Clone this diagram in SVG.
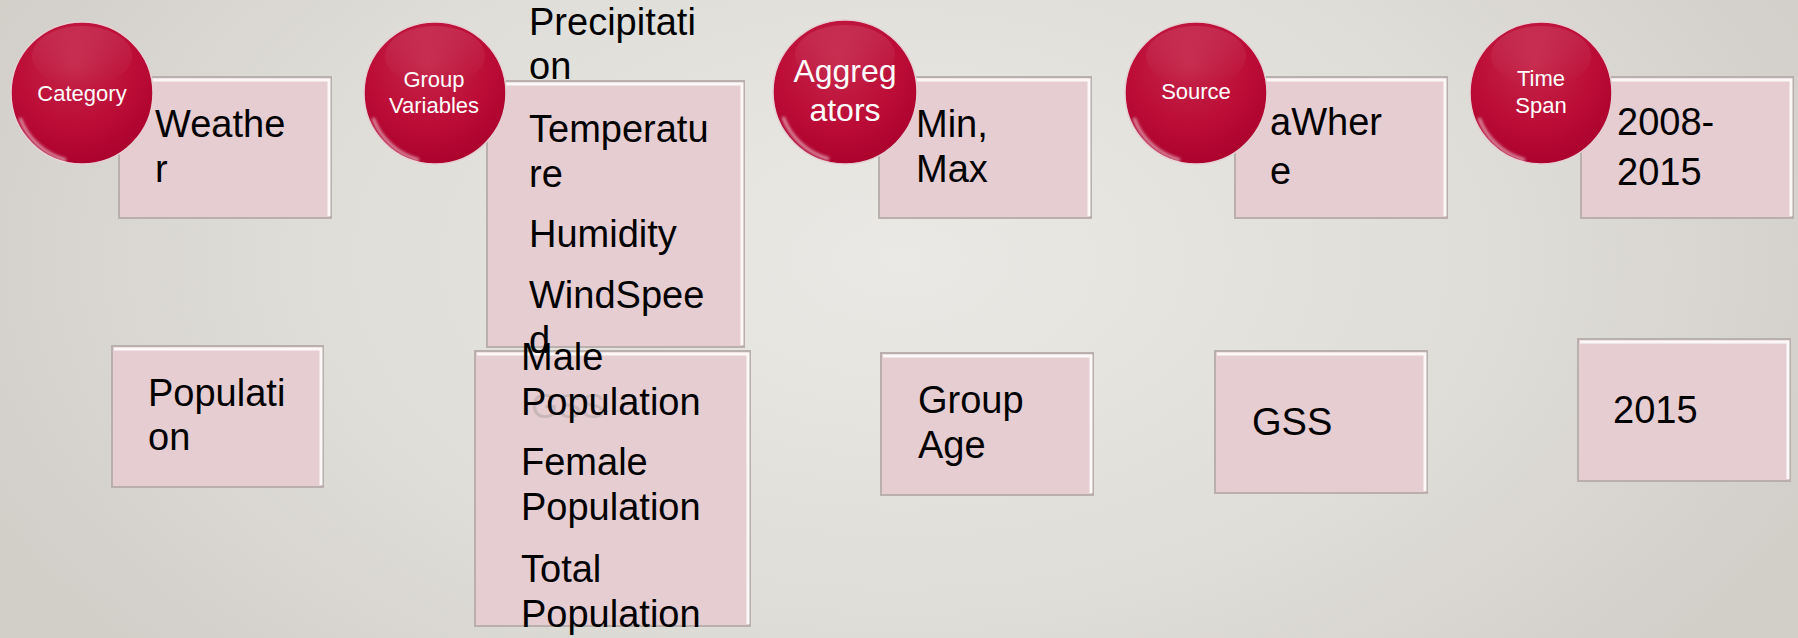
<svg xmlns="http://www.w3.org/2000/svg" width="1798" height="638" viewBox="0 0 1798 638">
<defs>
<radialGradient id="bg" cx="900" cy="260" r="1000" gradientUnits="userSpaceOnUse" gradientTransform="matrix(1 0 0 0.6 0 104)">
<stop offset="0" stop-color="#ebe9e5"/>
<stop offset="0.6" stop-color="#dfddd8"/>
<stop offset="1" stop-color="#d2cfc9"/>
</radialGradient>
<radialGradient id="ball" cx="0.45" cy="0.3" r="0.75">
<stop offset="0" stop-color="#c5264a"/>
<stop offset="0.55" stop-color="#bc0d37"/>
<stop offset="1" stop-color="#a9002c"/>
</radialGradient>
<linearGradient id="shine" x1="0" y1="0" x2="0" y2="1">
<stop offset="0" stop-color="#ffffff" stop-opacity="0.1"/>
<stop offset="1" stop-color="#ffffff" stop-opacity="0"/>
</linearGradient>
<filter id="soft" x="-20%" y="-20%" width="140%" height="140%">
<feGaussianBlur stdDeviation="1.6"/>
</filter>
</defs>
<style>
.box{fill:#e6cdd1;stroke:#b9b0ae;stroke-width:2}
.hl{fill:none;stroke:#ffffff;stroke-width:3;opacity:0.85}
.ball{fill:url(#ball);stroke:#e4cfd3;stroke-width:1.5}
.rim{fill:none;stroke:#ffffff;stroke-width:3;opacity:0.6;filter:url(#soft)}
.t{font-family:"Liberation Sans",Arial,sans-serif;font-size:38px;fill:#000}
.c{font-family:"Liberation Sans",Arial,sans-serif;font-size:22px;fill:#fff;text-anchor:middle}
.cb{font-family:"Liberation Sans",Arial,sans-serif;font-size:32px;fill:#fff;text-anchor:middle}
.ghost{font-family:"Liberation Sans",Arial,sans-serif;font-size:35px;fill:#c9b7ba}
</style>
<rect width="1798" height="638" fill="url(#bg)"/>

<g id="box-weather">
<rect class="box" x="119" y="77" width="212" height="141"/>
<path class="hl" d="M121 80 H329 V216"/>
<text class="t" x="155" y="137">Weathe</text>
<text class="t" x="155" y="182">r</text>
</g>
<g id="box-groupvars">
<rect class="box" x="487" y="81" width="257" height="266"/>
<path class="hl" d="M489 84 H742 V345"/>
</g>
<g id="box-minmax">
<rect class="box" x="879" y="77" width="212" height="141"/>
<path class="hl" d="M881 80 H1089 V216"/>
<text class="t" x="916" y="137">Min,</text>
<text class="t" x="916" y="182">Max</text>
</g>
<g id="box-awhere">
<rect class="box" x="1235" y="77" width="212" height="141"/>
<path class="hl" d="M1237 80 H1445 V216"/>
<text class="t" x="1270" y="135">aWher</text>
<text class="t" x="1270" y="184">e</text>
</g>
<g id="box-years">
<rect class="box" x="1581" y="77" width="212" height="141"/>
<path class="hl" d="M1583 80 H1791 V216"/>
<text class="t" x="1617" y="135">2008-</text>
<text class="t" x="1617" y="185">2015</text>
</g>

<g id="circle-category">
<circle class="ball" cx="82" cy="93" r="71"/>
<ellipse cx="82" cy="56" rx="50" ry="30" fill="url(#shine)"/>
<path class="rim" d="M20 118 A67 67 0 0 0 66 160"/>
<text class="c" x="82" y="101">Category</text>
</g>
<g id="circle-groupvars">
<circle class="ball" cx="435" cy="93" r="71"/>
<ellipse cx="435" cy="56" rx="50" ry="30" fill="url(#shine)"/>
<path class="rim" d="M373 118 A67 67 0 0 0 419 160"/>
<text class="c" x="434" y="87">Group</text>
<text class="c" x="434" y="113">Variables</text>
</g>
<g id="circle-aggregators">
<circle class="ball" cx="845" cy="92" r="72"/>
<ellipse cx="845" cy="55" rx="50" ry="30" fill="url(#shine)"/>
<path class="rim" d="M783 117 A68 68 0 0 0 829 159"/>
<text class="cb" x="845" y="82">Aggreg</text>
<text class="cb" x="845" y="121">ators</text>
</g>
<g id="circle-source">
<circle class="ball" cx="1196" cy="93" r="71"/>
<ellipse cx="1196" cy="56" rx="50" ry="30" fill="url(#shine)"/>
<path class="rim" d="M1134 118 A67 67 0 0 0 1180 160"/>
<text class="c" x="1196" y="99">Source</text>
</g>
<g id="circle-timespan">
<circle class="ball" cx="1541" cy="93" r="71"/>
<ellipse cx="1541" cy="56" rx="50" ry="30" fill="url(#shine)"/>
<path class="rim" d="M1479 118 A67 67 0 0 0 1525 160"/>
<text class="c" x="1541" y="86">Time</text>
<text class="c" x="1541" y="113">Span</text>
</g>

<g id="box-population">
<rect class="box" x="112" y="346" width="211" height="141"/>
<path class="hl" d="M114 349 H321 V485"/>
<text class="t" x="148" y="406">Populati</text>
<text class="t" x="148" y="450">on</text>
</g>
<g id="box-popvars">
<rect class="box" x="475" y="351" width="275" height="275"/>
<path class="hl" d="M477 354 H748 V624"/>
<text class="ghost" x="531" y="418">GSS</text>
</g>
<g id="box-groupage">
<rect class="box" x="881" y="353" width="212" height="142"/>
<path class="hl" d="M883 356 H1091 V493"/>
<text class="t" x="918" y="413">Group</text>
<text class="t" x="918" y="458">Age</text>
</g>
<g id="box-gss">
<rect class="box" x="1215" y="351" width="212" height="142"/>
<path class="hl" d="M1217 354 H1425 V491"/>
<text class="t" x="1252" y="435">GSS</text>
</g>
<g id="box-2015">
<rect class="box" x="1578" y="339" width="212" height="142"/>
<path class="hl" d="M1580 342 H1788 V479"/>
<text class="t" x="1613" y="423">2015</text>
</g>

<g id="text-groupvars">
<text class="t" x="529" y="35">Precipitati</text>
<text class="t" x="529" y="79">on</text>
<text class="t" x="529" y="142">Temperatu</text>
<text class="t" x="529" y="187">re</text>
<text class="t" x="529" y="247">Humidity</text>
<text class="t" x="529" y="308">WindSpee</text>
<text class="t" x="529" y="353">d</text>
</g>
<g id="text-popvars">
<text class="t" x="521" y="370">Male</text>
<text class="t" x="521" y="415">Population</text>
<text class="t" x="521" y="475">Female</text>
<text class="t" x="521" y="520">Population</text>
<text class="t" x="521" y="582">Total</text>
<text class="t" x="521" y="627">Population</text>
</g>
<g id="connectors"></g>
</svg>
